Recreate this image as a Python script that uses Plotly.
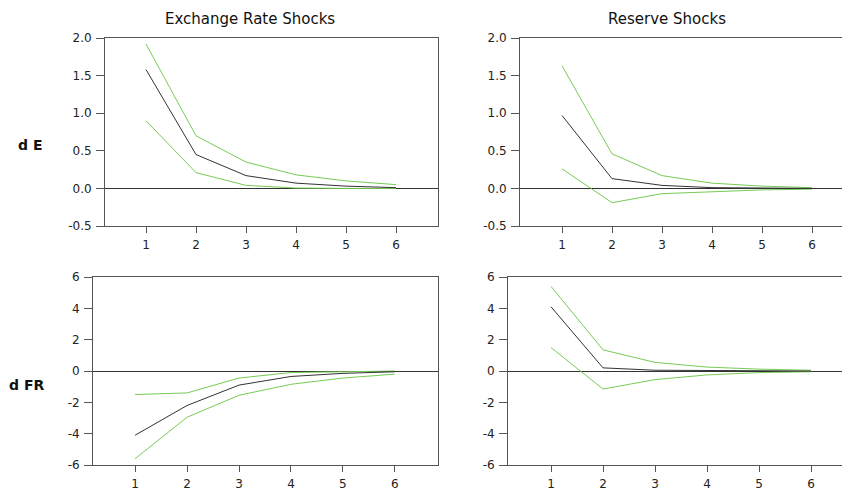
import plotly.graph_objects as go

steps = [1, 2, 3, 4, 5, 6]

# d E response to exchange rate shocks
de_ex_mid = [1.58, 0.45, 0.17, 0.07, 0.03, 0.01]
de_ex_hi = [1.92, 0.70, 0.35, 0.18, 0.10, 0.05]
de_ex_lo = [0.90, 0.21, 0.04, 0.005, 0.0, 0.0]

# d E response to reserve shocks
de_rs_mid = [0.97, 0.13, 0.04, 0.01, 0.005, 0.0]
de_rs_hi = [1.63, 0.46, 0.17, 0.07, 0.03, 0.01]
de_rs_lo = [0.26, -0.19, -0.07, -0.04, -0.02, -0.01]

# d FR response to exchange rate shocks
dfr_ex_mid = [-4.1, -2.2, -0.9, -0.35, -0.15, -0.05]
dfr_ex_hi = [-1.5, -1.4, -0.45, -0.1, -0.05, 0.0]
dfr_ex_lo = [-5.6, -2.95, -1.55, -0.85, -0.45, -0.2]

# d FR response to reserve shocks
dfr_rs_mid = [4.1, 0.2, 0.05, 0.02, 0.01, 0.0]
dfr_rs_hi = [5.4, 1.35, 0.55, 0.25, 0.12, 0.05]
dfr_rs_lo = [1.5, -1.15, -0.55, -0.25, -0.1, -0.05]

col_titles = ["Exchange Rate Shocks", "Reserve Shocks"]
row_titles = ["d E", "d FR"]

de_ticks = [-0.5, 0.0, 0.5, 1.0, 1.5, 2.0]
de_ticktext = ["-0.5", "0.0", "0.5", "1.0", "1.5", "2.0"]
fr_ticks = [-6, -4, -2, 0, 2, 4, 6]
fr_ticktext = ["-6", "-4", "-2", "0", "2", "4", "6"]

OFF = 8  # page body margin offset
W, H = 850 - OFF, 490 - OFF
GREEN = "#77cc55"
BLACK = "#333333"
FRAME = "#555555"
FONT = "DejaVu Sans, Arial, sans-serif"


def px_x(p):
    return (p - OFF) / W


def px_y(p):
    return 1 - (p - OFF) / H


fig = go.Figure()

panels = [
    ("", 105, 438, 38, 226, [0.18, 6.84], [-0.5, 2.0], (de_ex_hi, de_ex_lo, de_ex_mid), de_ticks, de_ticktext, True),
    ("2", 520, 850, 38, 226, [0.16, 6.76], [-0.5, 2.0], (de_rs_hi, de_rs_lo, de_rs_mid), de_ticks, de_ticktext, False),
    ("3", 93, 438, 277, 465, [0.19, 6.83], [-6, 6], (dfr_ex_hi, dfr_ex_lo, dfr_ex_mid), fr_ticks, fr_ticktext, True),
    ("4", 508, 850, 277, 465, [0.173, 6.75], [-6, 6], (dfr_rs_hi, dfr_rs_lo, dfr_rs_mid), fr_ticks, fr_ticktext, False),
]

for suf, xl, xr, yt, yb, xrng, yrng, data, tv, tt, mirror_r in panels:
    hi, lo, mid = data
    xa = "x" + suf
    ya = "y" + suf
    for series, color in ((hi, GREEN), (lo, GREEN), (mid, BLACK)):
        fig.add_trace(go.Scatter(x=steps, y=series, mode="lines", xaxis=xa, yaxis=ya,
                                 line=dict(color=color, width=1), showlegend=False,
                                 hoverinfo="skip"))
    fig.update_layout(**{
        "xaxis" + suf: dict(domain=[px_x(xl), min(1.0, px_x(xr))], range=xrng, anchor=ya,
                            tickvals=steps, ticks="outside", ticklen=6, tickcolor=FRAME,
                            showline=True, linecolor=FRAME, linewidth=1, mirror=True,
                            showgrid=False, zeroline=False, fixedrange=True,
                            automargin=False, ticklabelstandoff=2,
                            tickfont=dict(family=FONT, size=12, color="#222")),
        "yaxis" + suf: dict(domain=[px_y(yb), px_y(yt)], range=yrng, anchor=xa,
                            tickvals=tv, ticktext=tt, ticks="outside", ticklen=8,
                            tickcolor=FRAME, showline=True, linecolor=FRAME, linewidth=1,
                            mirror=mirror_r, showgrid=False, zeroline=True,
                            zerolinecolor="#333333", zerolinewidth=1, fixedrange=True,
                            automargin=False, ticklabelstandoff=2,
                            tickfont=dict(family=FONT, size=12, color="#222")),
    })

annotations = [
    dict(text=col_titles[0], x=px_x(250), y=1.0, yanchor="top", font=dict(family=FONT, size=15, color="#111")),
    dict(text=col_titles[1], x=px_x(667), y=1.0, yanchor="top", font=dict(family=FONT, size=15, color="#111")),
    dict(text="<b>" + row_titles[0] + "</b>", x=px_x(30), y=px_y(145), yanchor="middle", font=dict(family=FONT, size=14, color="#111")),
    dict(text="<b>" + row_titles[1] + "</b>", x=px_x(26), y=px_y(385), yanchor="middle", font=dict(family=FONT, size=14, color="#111")),
]
for a in annotations:
    a.update(xref="paper", yref="paper", showarrow=False, xanchor="center")
fig.update_layout(annotations=annotations)

fig.update_layout(width=W, height=H, margin=dict(l=0, r=0, t=0, b=0, autoexpand=False),
                  paper_bgcolor="white", plot_bgcolor="white")

fig.write_html("out.html")
